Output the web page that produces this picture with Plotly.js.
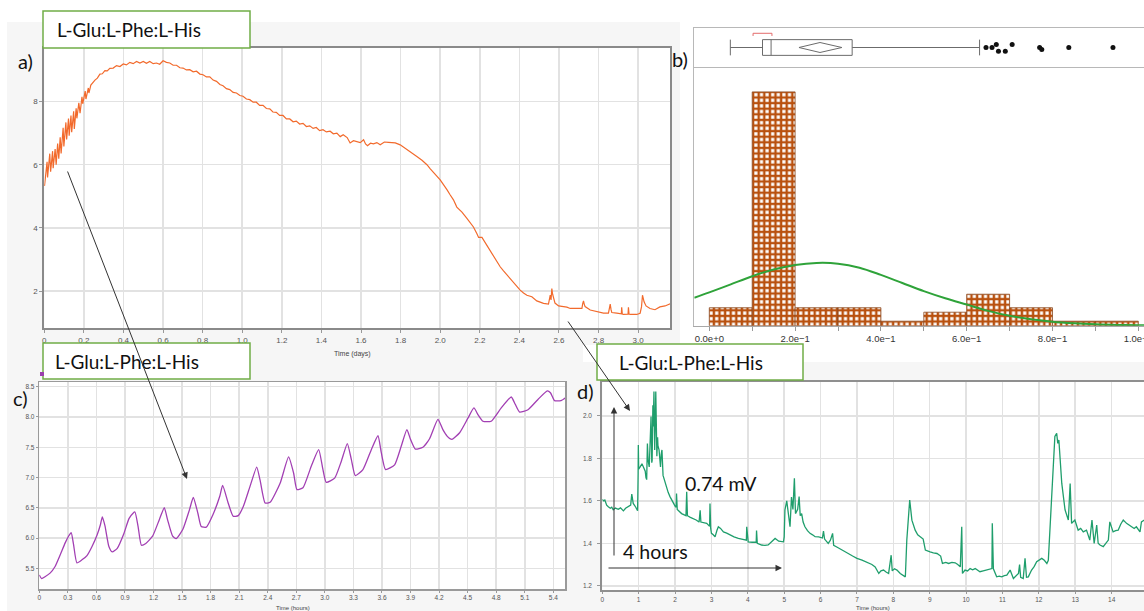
<!DOCTYPE html>
<html>
<head>
<meta charset="utf-8">
<script src="https://cdn.plot.ly/plotly-3.0.1.min.js"></script>
<style>
  html, body { margin: 0; padding: 0; background: #ffffff; }
  #chart { width: 1144px; height: 611px; }
</style>
</head>
<body>
<div id="chart"></div>
<script>
// ---------- a) potential over the whole run (days) ----------
const aDays = [0, 0.0010, 0.0140, 0.0165, 0.0276, 0.0319, 0.0419, 0.0447, 0.0547, 0.0599, 0.0674, 0.0731, 0.0802, 0.0849, 0.0952, 0.0988, 0.1091, 0.1128, 0.1223, 0.1256, 0.1348, 0.1383, 0.1483, 0.1516, 0.1609, 0.1646, 0.1745, 0.1806, 0.1903, 0.1942, 0.2066, 0.2103, 0.2224, 0.2255,
  0.235, 0.245, 0.256, 0.268, 0.281, 0.293, 0.306, 0.318, 0.331, 0.348, 0.365, 0.382, 0.399, 0.415, 0.432, 0.449, 0.466, 0.483, 0.5, 0.516, 0.533, 0.55, 0.567, 0.583, 0.6, 0.617, 0.634, 0.651, 0.668, 0.685, 0.701, 0.718, 0.735, 0.752, 0.769, 0.786, 0.802, 0.819, 0.836, 0.853, 0.87, 0.887, 0.903, 0.92, 0.937, 0.954, 0.971, 0.988,
  1.004, 1.021, 1.038, 1.055, 1.071, 1.088, 1.105, 1.122, 1.139, 1.155, 1.172, 1.189, 1.206, 1.223, 1.24, 1.257, 1.273, 1.29, 1.307, 1.324, 1.341, 1.358, 1.374, 1.391, 1.408, 1.425, 1.444, 1.46, 1.478, 1.495, 1.51, 1.53, 1.545, 1.562, 1.579, 1.596, 1.613, 1.623, 1.633, 1.648, 1.663, 1.68, 1.697, 1.718, 1.739, 1.756, 1.773, 1.798, 1.815, 1.832, 1.857, 1.882, 1.908, 1.933, 1.95, 1.966, 1.983,
  2.0, 2.017, 2.034, 2.05, 2.067, 2.084, 2.095, 2.11, 2.135, 2.168, 2.185, 2.194, 2.211, 2.236, 2.253, 2.27, 2.287, 2.303, 2.32, 2.337, 2.354, 2.37, 2.387, 2.404, 2.421, 2.438, 2.463, 2.475, 2.488, 2.505, 2.522, 2.547, 2.552, 2.556, 2.56, 2.564, 2.568, 2.572, 2.58, 2.598, 2.623, 2.64, 2.657, 2.69, 2.716, 2.72, 2.724, 2.728, 2.732, 2.758, 2.791, 2.825, 2.85, 2.859, 2.863, 2.867, 2.892, 2.915, 2.917, 2.92, 2.926, 2.949, 2.951, 2.954, 2.96, 2.993,
  3.01, 3.017, 3.022, 3.026, 3.03, 3.04, 3.05, 3.06, 3.085, 3.11, 3.136, 3.153, 3.162];
const aPotential = [5.38, 5.33, 6.09, 5.60, 6.35, 5.78, 6.43, 5.89, 6.50, 6.00, 6.67, 6.19, 6.87, 6.36, 7.17, 6.58, 7.34, 6.80, 7.46, 6.92, 7.56, 7.03, 7.69, 7.13, 7.79, 7.47, 7.96, 7.63, 8.15, 7.93, 8.33, 8.08, 8.43, 8.27,
  8.52, 8.60, 8.68, 8.74, 8.87, 8.88, 8.98, 8.97, 9.05, 9.06, 9.14, 9.11, 9.19, 9.16, 9.24, 9.20, 9.27, 9.22, 9.27, 9.21, 9.27, 9.20, 9.22, 9.18, 9.29, 9.24, 9.22, 9.15, 9.15, 9.07, 9.06, 9.00, 9.01, 8.94, 8.96, 8.87, 8.85, 8.78, 8.78, 8.68, 8.64, 8.54, 8.50, 8.41, 8.38, 8.29, 8.27, 8.19,
  8.17, 8.08, 8.06, 7.98, 7.98, 7.88, 7.88, 7.78, 7.77, 7.67, 7.66, 7.56, 7.56, 7.45, 7.45, 7.36, 7.38, 7.29, 7.31, 7.21, 7.23, 7.15, 7.18, 7.08, 7.11, 7.04, 7.06, 6.98, 7.00, 6.89, 6.95, 6.86, 6.69, 6.76, 6.74, 6.70, 6.79, 6.66, 6.60, 6.68, 6.66, 6.70, 6.63, 6.72, 6.71, 6.70, 6.69, 6.63, 6.56, 6.47, 6.37, 6.26, 6.14, 6.00, 5.87, 5.74, 5.64,
  5.52, 5.38, 5.21, 5.05, 4.89, 4.66, 4.60, 4.50, 4.30, 4.03, 3.82, 3.70, 3.70, 3.45, 3.26, 3.08, 2.92, 2.77, 2.64, 2.51, 2.39, 2.29, 2.16, 2.03, 1.94, 1.87, 1.82, 1.75, 1.69, 1.65, 1.61, 1.59, 1.75, 1.87, 1.72, 2.08, 1.90, 1.82, 1.62, 1.53, 1.51, 1.49, 1.45, 1.46, 1.45, 1.60, 1.69, 1.58, 1.51, 1.40, 1.35, 1.30, 1.30, 1.59, 1.42, 1.32, 1.30, 1.28, 1.49, 1.27, 1.26, 1.27, 1.49, 1.27, 1.26, 1.26,
  1.30, 1.50, 1.87, 1.70, 1.66, 1.53, 1.50, 1.45, 1.41, 1.50, 1.53, 1.59, 1.60];
const aTickVals = [0, 0.2, 0.4, 0.6, 0.8, 1.0, 1.2, 1.4, 1.6, 1.8, 2.0, 2.2, 2.4, 2.6, 2.8, 3.0];
const aTickText = ['0', '0.2', '0.4', '0.6', '0.8', '1.0', '1.2', '1.4', '1.6', '1.8', '2.0', '2.2', '2.4', '2.6', '2.8', '3.0'];
const aYTickVals = [2, 4, 6, 8];
const aYTickText = ['2', '4', '6', '8'];

// ---------- b) distribution: histogram, fitted normal, box plot ----------
const binCenters = [0.05, 0.15, 0.25, 0.35, 0.45, 0.55, 0.65, 0.75, 0.85, 0.95];
const binCounts = [4, 52, 4, 4, 1, 3, 7, 4, 1, 1];
const normalX = [-0.035, 0, 0.05, 0.1, 0.15, 0.2, 0.25, 0.3, 0.35, 0.4, 0.45, 0.5, 0.55, 0.6, 0.65, 0.7, 0.75, 0.8, 0.85, 0.9, 0.95, 1.0, 1.014];
const normalY = [6.2, 7.4, 9.2, 11.0, 12.5, 13.5, 13.95, 13.8, 12.9, 11.3, 9.5, 7.7, 6.1, 4.7, 3.3, 2.2, 1.45, 0.9, 0.55, 0.32, 0.18, 0.1, 0.08];
const boxQ1 = 0.124, boxMedian = 0.144, boxQ3 = 0.333, boxLow = 0.049, boxHigh = 0.630;
const boxMean = 0.258;
const meanCI = [0.209, 0.309];
const shortestHalf = [0.102, 0.146];
const outlierX = [0.645, 0.659, 0.669, 0.674, 0.690, 0.706, 0.770, 0.775, 0.838, 0.941];
const outlierY = [0.0, 0.0, 0.16, -0.19, -0.19, 0.16, 0.0, -0.1, 0.0, 0.0];
const bTickVals = [0, 0.2, 0.4, 0.6, 0.8, 1.0];

// ---------- c) first hours of the run ----------
const cHours = [0, 0.025, 0.06, 0.113, 0.166, 0.219, 0.272, 0.307, 0.335, 0.36, 0.395, 0.448, 0.501, 0.554, 0.607, 0.642, 0.662, 0.69, 0.731, 0.766, 0.819, 0.89, 0.942, 0.985, 1.005, 1.038, 1.073, 1.119, 1.19, 1.26, 1.313, 1.348, 1.401, 1.437, 1.507, 1.578, 1.618, 1.666, 1.701, 1.754, 1.825, 1.896, 1.926, 1.984, 2.037, 2.09, 2.143, 2.213, 2.284, 2.319, 2.372, 2.425, 2.531, 2.619, 2.672, 2.707, 2.77, 2.858, 2.935, 2.98, 3.015, 3.103, 3.173, 3.236, 3.278, 3.32, 3.40, 3.488, 3.558, 3.593, 3.638, 3.733, 3.803, 3.862, 3.90, 3.95, 4.03, 4.10, 4.188, 4.24, 4.286, 4.335, 4.416, 4.503, 4.566, 4.608, 4.66, 4.748, 4.853, 4.958, 5.0, 5.046, 5.134, 5.239, 5.337, 5.37, 5.413, 5.48, 5.54];
const cPotential = [5.39, 5.33, 5.36, 5.42, 5.53, 5.72, 5.92, 6.03, 6.09, 5.89, 5.59, 5.64, 5.71, 5.86, 6.05, 6.22, 6.35, 6.20, 5.86, 5.77, 5.83, 6.08, 6.32, 6.41, 6.43, 6.19, 5.88, 5.91, 6.03, 6.30, 6.50, 6.30, 6.03, 5.99, 6.14, 6.47, 6.67, 6.41, 6.19, 6.18, 6.39, 6.69, 6.87, 6.58, 6.36, 6.37, 6.52, 6.85, 7.17, 6.96, 6.58, 6.59, 6.91, 7.34, 7.07, 6.80, 6.83, 7.19, 7.46, 7.13, 6.92, 6.99, 7.27, 7.56, 7.30, 7.03, 7.13, 7.46, 7.69, 7.41, 7.13, 7.21, 7.52, 7.79, 7.63, 7.47, 7.50, 7.64, 7.96, 7.79, 7.68, 7.63, 7.74, 7.98, 8.15, 8.04, 7.93, 7.93, 8.15, 8.33, 8.21, 8.08, 8.12, 8.29, 8.43, 8.40, 8.27, 8.27, 8.33];
const cTickVals = [0, 0.3, 0.6, 0.9, 1.2, 1.5, 1.8, 2.1, 2.4, 2.7, 3.0, 3.3, 3.6, 3.9, 4.2, 4.5, 4.8, 5.1, 5.4];
const cTickText = ['0', '0.3', '0.6', '0.9', '1.2', '1.5', '1.8', '2.1', '2.4', '2.7', '3.0', '3.3', '3.6', '3.9', '4.2', '4.5', '4.8', '5.1', '5.4'];
const cYTickVals = [5.5, 6.0, 6.5, 7.0, 7.5, 8.0, 8.5];
const cYTickText = ['5.5', '6.0', '6.5', '7.0', '7.5', '8.0', '8.5'];

// ---------- d) late stage of the run (hours) ----------
const dHours = [0, 0.04, 0.07, 0.12, 0.165, 0.22, 0.26, 0.30, 0.36, 0.44, 0.5, 0.58, 0.64, 0.71, 0.78, 0.81, 0.85, 0.92, 0.97, 0.985, 0.99, 1.0, 1.04, 1.09, 1.13, 1.18, 1.2, 1.22, 1.24, 1.26, 1.29, 1.31, 1.34, 1.36, 1.37, 1.39, 1.40, 1.42, 1.44, 1.46, 1.47, 1.5, 1.52, 1.53, 1.56, 1.58, 1.6, 1.62, 1.64, 1.67, 1.7, 1.73, 1.77, 1.81, 1.86, 1.9, 1.95, 2.0, 2.03, 2.04, 2.06, 2.12, 2.18, 2.24, 2.3, 2.32, 2.34, 2.42, 2.5, 2.58, 2.66, 2.69, 2.71, 2.78, 2.87, 2.95, 2.96, 2.98,
  3.0, 3.05, 3.1, 3.15, 3.19, 3.25, 3.33, 3.42, 3.51, 3.62, 3.74, 3.85, 3.96, 3.97, 3.99, 4.01, 4.12, 4.23, 4.24, 4.26, 4.38, 4.47, 4.56, 4.66, 4.75, 4.85, 4.98, 5.0, 5.02, 5.07, 5.11, 5.16, 5.2, 5.24, 5.28, 5.31, 5.37, 5.41, 5.44, 5.48, 5.52, 5.57, 5.64, 5.71, 5.78, 5.85, 5.95, 6.05, 6.08, 6.11, 6.21, 6.27, 6.33, 6.36, 6.47, 6.58, 6.67, 6.76, 6.88, 7.0, 7.14, 7.23, 7.32, 7.41, 7.5, 7.6, 7.66, 7.73, 7.8, 7.87, 7.94, 7.97, 8.03, 8.1, 8.19, 8.26, 8.33,
  8.37, 8.45, 8.51, 8.6, 8.67, 8.74, 8.82, 8.88, 8.95, 9.01, 9.1, 9.2, 9.3, 9.35, 9.44, 9.52, 9.61, 9.7, 9.77, 9.84, 9.88, 9.9, 9.97, 10.04, 10.11, 10.18, 10.25, 10.38, 10.47, 10.57, 10.64, 10.71, 10.72, 10.75, 10.84, 10.91, 10.98, 11.05, 11.12, 11.21, 11.3, 11.37, 11.44, 11.47, 11.5, 11.57, 11.62, 11.66, 11.71, 11.8, 11.87, 11.94, 12.01, 12.08, 12.15, 12.22, 12.26, 12.35, 12.44, 12.49, 12.52, 12.55, 12.63, 12.72, 12.81, 12.86, 12.9, 12.99, 13.08, 13.15, 13.22, 13.31, 13.4, 13.46, 13.52, 13.59, 13.63, 13.68, 13.77, 13.84, 13.91, 13.95, 14.04, 14.11, 14.18, 14.25, 14.32, 14.41, 14.48, 14.55, 14.62, 14.68, 14.78, 14.82, 14.9];
const dPotential = [1.607, 1.60, 1.604, 1.58, 1.572, 1.565, 1.57, 1.558, 1.566, 1.56, 1.567, 1.553, 1.565, 1.572, 1.58, 1.632, 1.588, 1.57, 1.553, 1.73, 1.863, 1.75, 1.76, 1.775, 1.76, 1.74, 1.71, 1.70, 1.87, 1.79, 1.76, 1.92, 1.997, 1.78, 1.79, 2.05, 1.95, 2.115, 1.84, 2.0, 2.115, 1.81, 1.9, 1.86, 1.84, 1.78, 1.76, 1.82, 1.84, 1.72, 1.70, 1.69, 1.667, 1.64, 1.62, 1.605, 1.588, 1.575, 1.57, 1.635, 1.56, 1.55, 1.54, 1.535, 1.53, 1.643, 1.53, 1.522, 1.517, 1.51, 1.50, 1.556, 1.50, 1.497, 1.494, 1.48, 1.588, 1.47,
  1.447, 1.44, 1.43, 1.46, 1.478, 1.47, 1.454, 1.448, 1.439, 1.43, 1.423, 1.42, 1.415, 1.478, 1.415, 1.407, 1.405, 1.405, 1.46, 1.40, 1.392, 1.39, 1.392, 1.41, 1.423, 1.41, 1.407, 1.43, 1.557, 1.60, 1.55, 1.478, 1.618, 1.56, 1.706, 1.54, 1.56, 1.62, 1.53, 1.54, 1.50, 1.478, 1.46, 1.447, 1.44, 1.431, 1.43, 1.425, 1.457, 1.42, 1.40, 1.415, 1.447, 1.39, 1.38, 1.368, 1.36, 1.352, 1.34, 1.329, 1.321, 1.315, 1.308, 1.30, 1.289, 1.258, 1.27, 1.274, 1.265, 1.258, 1.344, 1.27, 1.28, 1.274, 1.258, 1.25, 1.242,
  1.415, 1.604, 1.509, 1.462, 1.44, 1.431, 1.42, 1.368, 1.365, 1.36, 1.355, 1.352, 1.34, 1.305, 1.31, 1.305, 1.31, 1.308, 1.30, 1.289, 1.478, 1.258, 1.274, 1.27, 1.281, 1.275, 1.281, 1.266, 1.27, 1.274, 1.278, 1.281, 1.494, 1.28, 1.242, 1.245, 1.242, 1.248, 1.25, 1.274, 1.234, 1.245, 1.258, 1.30, 1.24, 1.234, 1.329, 1.24, 1.242, 1.274, 1.29, 1.313, 1.32, 1.329, 1.32, 1.305, 1.32, 1.62, 1.903, 1.918, 1.871, 1.887, 1.682, 1.557, 1.51, 1.682, 1.494, 1.51, 1.462, 1.47, 1.454, 1.462, 1.415, 1.51, 1.399, 1.486, 1.40, 1.392, 1.384, 1.40, 1.415, 1.501, 1.454, 1.46, 1.462, 1.49, 1.51, 1.494, 1.485, 1.478, 1.47, 1.478, 1.454, 1.501, 1.51];
const dTickVals = [0, 1, 2, 3, 4, 5, 6, 7, 8, 9, 10, 11, 12, 13, 14];
const dYTickVals = [1.2, 1.4, 1.6, 1.8, 2.0];
const dYTickText = ['1.2', '1.4', '1.6', '1.8', '2.0'];

const panelTitle = 'L-Glu:L-Phe:L-His';

// ---------- page geometry helpers (pixels -> paper fraction) ----------
const W = 1144, H = 611;
const fx = px => px / W;
const fy = py => 1 - py / H;

const tickFont = { family: 'Liberation Sans, Arial, sans-serif', size: 8, color: '#555' };
const tinyFont = { family: 'Liberation Sans, Arial, sans-serif', size: 6.5, color: '#555' };
const gridCol = '#e2e2e2';
const bigFont = size => ({ family: 'Lato, Open Sans, sans-serif', size: size, color: '#111' });

// text placed by its centre
const label = (text, px, py, font) => ({ text, x: fx(px), y: fy(py), xref: 'paper', yref: 'paper',
  xanchor: 'center', yanchor: 'middle', showarrow: false, font });
// text placed by its left edge
const leftLabel = (text, px, py, font) => ({ text, x: fx(px), y: fy(py), xref: 'paper', yref: 'paper',
  xanchor: 'left', yanchor: 'middle', showarrow: false, font });
// arrow from tail (tx, ty) to head (hx, hy), in page pixels
const arrow = (tx, ty, hx, hy) => ({ text: '', x: fx(hx), y: fy(hy), xref: 'paper', yref: 'paper',
  ax: tx - hx, ay: ty - hy, axref: 'pixel', ayref: 'pixel', xanchor: 'center', yanchor: 'middle',
  showarrow: true, arrowhead: 2, arrowsize: 1.3, arrowwidth: 1, arrowcolor: '#333' });

const traces = [
  { type: 'scatter', mode: 'lines', x: aDays, y: aPotential, xaxis: 'x', yaxis: 'y',
    line: { color: '#f26a2c', width: 1.2 }, hoverinfo: 'skip' },

  { type: 'bar', x: binCenters, y: binCounts, width: 0.1, xaxis: 'x2', yaxis: 'y2',
    marker: { color: '#b9510f', line: { color: '#8a4a22', width: 0.8 },
      pattern: { shape: '+', fgcolor: '#b9510f', bgcolor: '#ffffff', size: 5.6, solidity: 0.68, fillmode: 'replace' } },
    hoverinfo: 'skip' },
  { type: 'scatter', mode: 'lines', x: normalX, y: normalY, xaxis: 'x2', yaxis: 'y2',
    line: { color: '#2fa33a', width: 2, shape: 'spline' }, hoverinfo: 'skip' },

  { type: 'box', orientation: 'h', y: [0], q1: [boxQ1], median: [boxMedian], q3: [boxQ3],
    lowerfence: [boxLow], upperfence: [boxHigh], boxpoints: false, width: 0.82, whiskerwidth: 1,
    fillcolor: '#ffffff', line: { color: '#6b6b6b', width: 1 }, xaxis: 'x3', yaxis: 'y3', hoverinfo: 'skip' },
  { type: 'scatter', mode: 'lines', xaxis: 'x3', yaxis: 'y3',
    x: [meanCI[0], boxMean, meanCI[1], boxMean, meanCI[0]], y: [0, 0.26, 0, -0.26, 0],
    line: { color: '#6b6b6b', width: 1 }, hoverinfo: 'skip' },
  { type: 'scatter', mode: 'lines', xaxis: 'x3', yaxis: 'y3',
    x: [shortestHalf[0], shortestHalf[0], shortestHalf[1], shortestHalf[1]], y: [0.6, 0.74, 0.74, 0.6],
    line: { color: '#e36b6b', width: 1 }, hoverinfo: 'skip' },
  { type: 'scatter', mode: 'markers', x: outlierX, y: outlierY, xaxis: 'x3', yaxis: 'y3',
    marker: { color: '#111', size: 5 }, hoverinfo: 'skip' },

  { type: 'scatter', mode: 'lines', x: cHours, y: cPotential, xaxis: 'x4', yaxis: 'y4',
    line: { color: '#a23fb3', width: 1.3, shape: 'spline', smoothing: 0.5 }, hoverinfo: 'skip' },

  { type: 'scatter', mode: 'lines', x: dHours, y: dPotential, xaxis: 'x5', yaxis: 'y5',
    line: { color: '#1f9e6c', width: 1.3 }, hoverinfo: 'skip' }
];

const frame = (col, w) => ({ showline: true, linecolor: col, linewidth: w });

const layout = {
  width: W, height: H,
  margin: { l: 0, r: 0, t: 0, b: 0, pad: 0 },
  paper_bgcolor: '#f6f6f6',
  plot_bgcolor: '#ffffff',
  showlegend: false,
  bargap: 0,

  xaxis: Object.assign(frame('#8a8a8a', 2), { domain: [fx(44.3), fx(670)], range: [0, 3.161], anchor: 'y', mirror: true,
    tickvals: aTickVals, ticktext: aTickText, tickfont: tickFont, ticks: 'outside', ticklen: 3, tickcolor: '#999',
    showgrid: true, gridcolor: gridCol, gridwidth: 1.5, zeroline: false }),
  yaxis: Object.assign(frame('#8a8a8a', 2), { domain: [fy(328.3), fy(47.7)], range: [0.822, 9.705], anchor: 'x', mirror: true,
    tickvals: aYTickVals, ticktext: aYTickText, tickfont: tickFont, ticks: 'outside', ticklen: 3, tickcolor: '#999',
    showgrid: true, gridcolor: gridCol, gridwidth: 1.5, zeroline: false }),

  xaxis2: Object.assign(frame('#a8a8a8', 1), { domain: [fx(694.3), 1], range: [-0.035, 1.0133], anchor: 'y2',
    tickvals: bTickVals, tickformat: '.1e', ticklabeloverflow: 'allow',
    tickfont: { family: 'Liberation Sans, Arial, sans-serif', size: 9.5, color: '#333' },
    ticks: 'outside', ticklen: 4, tickcolor: '#999', minor: { dtick: 0.1, ticks: 'outside', ticklen: 4, tickcolor: '#999', showgrid: false },
    showgrid: false, zeroline: false }),
  yaxis2: Object.assign(frame('#b8b8b8', 1), { domain: [fy(325.7), fy(66.7)], range: [0, 57.6], anchor: 'x2',
    showticklabels: false, ticks: '', showgrid: false, zeroline: false }),

  xaxis3: Object.assign(frame('#b8b8b8', 1), { domain: [fx(694.3), 1], range: [-0.035, 1.0133], anchor: 'y3', mirror: true,
    showticklabels: false, ticks: '', showgrid: false, zeroline: false }),
  yaxis3: Object.assign(frame('#b8b8b8', 1), { domain: [fy(66.7), fy(28.3)], range: [-1, 1], anchor: 'x3',
    showticklabels: false, ticks: '', showgrid: false, zeroline: false }),

  xaxis4: Object.assign(frame('#9a9a9a', 1.5), { domain: [fx(39.3), fx(565.3)], range: [0, 5.526], anchor: 'y4', mirror: true,
    tickvals: cTickVals, ticktext: cTickText, tickfont: tinyFont, ticks: 'outside', ticklen: 2, tickcolor: '#999',
    showgrid: true, gridcolor: gridCol, gridwidth: 1.5, zeroline: false }),
  yaxis4: Object.assign(frame('#9a9a9a', 1.5), { domain: [fy(589), fy(382)], range: [5.158, 8.578], anchor: 'x4', mirror: true,
    tickvals: cYTickVals, ticktext: cYTickText, tickfont: tinyFont, ticks: 'outside', ticklen: 2, tickcolor: '#999',
    showgrid: true, gridcolor: gridCol, gridwidth: 1.5, zeroline: false }),

  xaxis5: Object.assign(frame('#8f8f8f', 2), { domain: [fx(602.3), 1], range: [0, 14.89], anchor: 'y5', mirror: true,
    tickvals: dTickVals, tickfont: tinyFont, ticks: 'outside', ticklen: 2, tickcolor: '#999',
    showgrid: true, gridcolor: gridCol, gridwidth: 1.5, zeroline: false }),
  yaxis5: Object.assign(frame('#8f8f8f', 2), { domain: [fy(590), fy(382)], range: [1.18, 2.16], anchor: 'x5',
    tickvals: dYTickVals, ticktext: dYTickText, tickfont: tinyFont, ticks: 'outside', ticklen: 3, tickcolor: '#999',
    ticklabelstandoff: 4, showgrid: true, gridcolor: gridCol, gridwidth: 1.5, zeroline: false }),

  shapes: [
    // white page areas around the grey panel backgrounds
    { type: 'rect', xref: 'paper', yref: 'paper', layer: 'below', x0: 0, x1: 1, y0: fy(22), y1: 1, line: { width: 0 }, fillcolor: '#ffffff' },
    { type: 'rect', xref: 'paper', yref: 'paper', layer: 'below', x0: 0, x1: fx(7), y0: 0, y1: 1, line: { width: 0 }, fillcolor: '#ffffff' },
    { type: 'rect', xref: 'paper', yref: 'paper', layer: 'below', x0: fx(680), x1: 1, y0: fy(362), y1: 1, line: { width: 0 }, fillcolor: '#ffffff' },
    { type: 'rect', xref: 'paper', yref: 'paper', layer: 'below', x0: fx(583), x1: fx(680), y0: fy(362), y1: fy(345), line: { width: 0 }, fillcolor: '#ffffff' },
    // panel title boxes
    { type: 'rect', xref: 'paper', yref: 'paper', layer: 'above', x0: fx(43), x1: fx(250), y0: fy(48), y1: fy(11), line: { color: '#70ad47', width: 1.5 }, fillcolor: '#ffffff' },
    { type: 'rect', xref: 'paper', yref: 'paper', layer: 'above', x0: fx(43), x1: fx(250), y0: fy(379), y1: fy(343), line: { color: '#70ad47', width: 1.5 }, fillcolor: '#ffffff' },
    { type: 'rect', xref: 'paper', yref: 'paper', layer: 'above', x0: fx(597), x1: fx(803), y0: fy(380), y1: fy(344), line: { color: '#70ad47', width: 1.5 }, fillcolor: '#ffffff' },
    // legend swatch of panel c
    { type: 'rect', xref: 'paper', yref: 'paper', layer: 'above', x0: fx(40), x1: fx(44), y0: fy(376), y1: fy(372), line: { width: 0 }, fillcolor: '#9b3fae' }
  ],

  annotations: [
    label('a)', 25, 61, bigFont(20)),
    label('b)', 680, 59, bigFont(20)),
    label('c)', 20, 398, bigFont(20)),
    label('d)', 586, 391, bigFont(20)),
    leftLabel(panelTitle, 55, 29.5, bigFont(19)),
    leftLabel(panelTitle, 53, 361, bigFont(19)),
    leftLabel(panelTitle, 617, 362, bigFont(19)),
    label('Time (days)', 353, 354, { family: 'Liberation Sans, Arial, sans-serif', size: 7, color: '#444' }),
    label('Time (hours)', 293, 608, { family: 'Liberation Sans, Arial, sans-serif', size: 6, color: '#444' }),
    label('Time (hours)', 873, 608, { family: 'Liberation Sans, Arial, sans-serif', size: 6, color: '#444' }),
    arrow(67, 170, 187, 479),
    arrow(567, 320, 630, 411),
    arrow(614, 557, 614, 407),
    arrow(607, 568, 782, 568),
    label('0.74 mV', 721, 483, bigFont(19.5)),
    label('4 hours', 655.5, 551, bigFont(19.5))
  ]
};

Plotly.newPlot('chart', traces, layout, { staticPlot: true, displayModeBar: false });
</script>
</body>
</html>
